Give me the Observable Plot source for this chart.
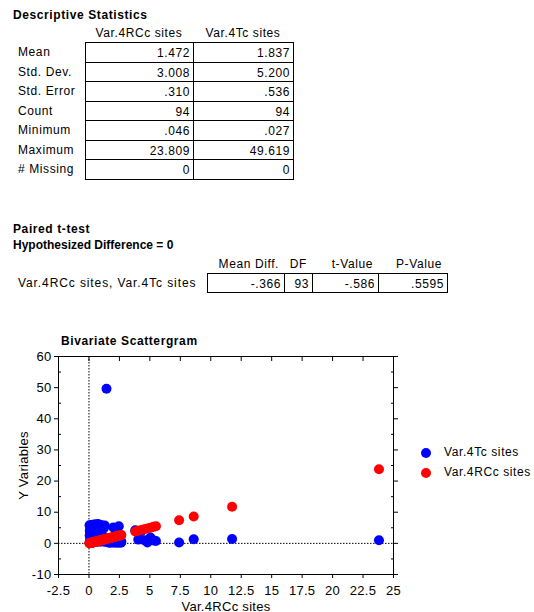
<!DOCTYPE html>
<html>
<head>
<meta charset="utf-8">
<script src="https://cdn.jsdelivr.net/npm/d3@7"></script>
<script src="https://cdn.jsdelivr.net/npm/@observablehq/plot@0.6"></script>
<style>
  html, body { margin: 0; padding: 0; background: #fff; }
  body { width: 534px; height: 612px; position: relative; overflow: hidden;
         font-family: "Liberation Sans", Arial, sans-serif; font-size: 12px; color: #000; letter-spacing: 0.6px; }
  .abs { position: absolute; white-space: nowrap; }
  .title { font-weight: bold; }
  .cell { position: absolute; box-sizing: border-box; border: 1px solid #000; text-align: right;
          padding-right: 3px; white-space: nowrap; }
  .legend-dot { display: inline-block; width: 10px; height: 10px; border-radius: 50%; position: absolute; }
  svg text { letter-spacing: 0.3px; }
</style>
</head>
<body>
<div id="page"></div>
<script>
// ---------- Data ----------
const statNames = ["Mean", "Std. Dev.", "Std. Error", "Count", "Minimum", "Maximum", "# Missing"];
const seriesNames = ["Var.4RCc sites", "Var.4Tc sites"];
const rccStats = ["1.472", "3.008", ".310", "94", ".046", "23.809", "0"];
const tcStats = ["1.837", "5.200", ".536", "94", ".027", "49.619", "0"];

const ttestHeaders = ["Mean Diff.", "DF", "t-Value", "P-Value"];
const ttestRowLabel = "Var.4RCc sites, Var.4Tc sites";
const ttestValues = ["-.366", "93", "-.586", ".5595"];

// Var.4RCc sites (x values; also plotted as the red series on y = x)
const rcc = [
  0.046, 0.05, 0.06, 0.07, 0.08, 0.09, 0.1, 0.11, 0.12, 0.13,
  0.14, 0.15, 0.17, 0.18, 0.19, 0.2, 0.22, 0.24, 0.25, 0.27,
  0.29, 0.3, 0.32, 0.34, 0.36, 0.38, 0.4, 0.42, 0.44, 0.46,
  0.48, 0.5, 0.52, 0.55, 0.58, 0.6, 0.63, 0.66, 0.69, 0.72,
  0.75, 0.78, 0.81, 0.85, 0.88, 0.92, 0.96, 1.0, 1.04, 1.08,
  1.12, 1.16, 1.2, 1.25, 1.3, 1.35, 1.44, 1.5, 1.55, 1.6,
  1.65, 1.7, 1.75, 1.8, 1.85, 1.9, 1.95, 2.0, 2.05, 2.1,
  2.15, 2.2, 2.25, 2.3, 2.35, 2.4, 2.45, 2.5, 2.55, 2.6,
  2.63, 2.66,
  3.8, 4.05, 4.3, 4.55, 4.8, 5.05, 5.3, 5.5,
  7.4, 8.6, 11.75, 23.809
];
// Var.4Tc sites (blue series)
const tc = [
  5.8, 0.3, 2.5, 4.1, 0.027, 3.2, 1.5, 5.5, 0.6, 2.8,
  4.6, 0.2, 3.6, 1.1, 5.9, 0.4, 2.2, 4.9, 0.8, 3.0,
  6.0, 1.7, 0.5, 5.2, 2.6, 0.3, 4.4, 1.2, 3.8, 5.6,
  0.9, 2.0, 6.1, 0.4, 4.7, 3.3, 1.4, 5.8, 0.6, 2.4,
  6.2, 0.8, 4.0, 1.9, 5.4, 0.5, 3.1, 5.9, 0.7, 2.7,
  5.6, 1.1, 4.8, 0.5, 5.7, 0.9, 49.619, 0.4, 0.7, 0.3,
  0.6, 0.2, 0.9, 0.4, 0.3, 0.8, 0.5, 5.1, 0.2, 0.6,
  0.4, 0.9, 0.3, 0.7, 0.2, 0.5, 5.5, 0.3, 0.8, 0.4,
  0.2, 0.5,
  4.2, 1.2, 3.9, 1.0, 0.3, 1.9, 0.9, 0.75,
  0.3, 1.3, 1.4, 1.0
];
const xTicks = [-2.5, 0, 2.5, 5, 7.5, 10, 12.5, 15, 17.5, 20, 22.5, 25];
const yTicks = [-10, 0, 10, 20, 30, 40, 50, 60];
const yMinorTicks = [-5, 5, 15, 25, 35, 45, 55];
const legendNames = ["Var.4Tc sites", "Var.4RCc sites"];
const blue = "#0000ff", red = "#ff0000";

// ---------- Page ----------
const page = document.getElementById("page");
function addText(txt, left, top, cls) {
  const d = document.createElement("div");
  d.className = "abs" + (cls ? " " + cls : "");
  d.style.left = left + "px"; d.style.top = top + "px";
  d.textContent = txt;
  page.appendChild(d);
  return d;
}
function addCell(txt, x0, x1, y0, h) {
  const d = document.createElement("div");
  d.className = "cell";
  d.style.left = x0 + "px"; d.style.top = y0 + "px";
  d.style.width = (x1 - x0 + 1) + "px"; d.style.height = (h + 1) + "px";
  d.style.lineHeight = (h + 1) + "px";
  d.textContent = txt;
  page.appendChild(d);
}

// Descriptive statistics
addText("Descriptive Statistics", 13, 8, "title");
const colEdges = [85, 193, 293];
const rowTop = 42, rowH = 19.5;
seriesNames.forEach((s, i) => {
  const d = addText(s, colEdges[i], 26);
  d.style.width = (colEdges[i + 1] - colEdges[i]) + "px";
  d.style.textAlign = "center";
});
statNames.forEach((name, r) => {
  const y0 = rowTop + r * rowH;
  addCell(rccStats[r], colEdges[0], colEdges[1], y0, rowH);
  addCell(tcStats[r], colEdges[1], colEdges[2], y0, rowH);
  const d = addText(name, 18, y0 + 1);
  d.style.lineHeight = (rowH) + "px";
});

// Paired t-test
addText("Paired t-test", 13, 222, "title");
const hyp = addText("Hypothesized Difference = 0", 13, 238, "title");
hyp.style.letterSpacing = "0px";
const tEdges = [207, 284, 312, 378, 447];
const tTop = 273, tH = 19;
ttestHeaders.forEach((h, i) => {
  const d = addText(h, tEdges[i] - 20, 257);
  d.style.width = (tEdges[i + 1] - tEdges[i] + 20 - 5) + "px";
  d.style.textAlign = "right";
});
ttestValues.forEach((v, c) => addCell(v, tEdges[c], tEdges[c + 1], tTop, tH));
const rl = addText(ttestRowLabel, 18, tTop + 1);
rl.style.lineHeight = tH + "px";
rl.style.letterSpacing = "0.9px";

// Scattergram
addText("Bivariate Scattergram", 61, 334, "title");

const rows = rcc.map((x, i) => ({ x, tc: tc[i], rcc: x }));
const chart = Plot.plot({
  width: 534,
  height: 282,
  marginLeft: 58,
  marginRight: 141,
  marginTop: 26,
  marginBottom: 38,
  style: { fontFamily: '"Liberation Sans", Arial, sans-serif', fontSize: "12.5px", color: "#000", background: "transparent", overflow: "visible" },
  x: { domain: [-2.5, 25] },
  y: { domain: [-10, 60] },
  marks: [
    Plot.ruleX([0], { stroke: "#000", strokeWidth: 1, strokeDasharray: "1.5,1.5" }),
    Plot.ruleY([0], { stroke: "#000", strokeWidth: 1, strokeDasharray: "1.5,1.5" }),
    Plot.dot(rows, { x: "x", y: "tc", r: 5, fill: blue }),
    Plot.dot(rows, { x: "x", y: "rcc", r: 5, fill: red }),
    Plot.frame({ stroke: "#000" }),
    Plot.axisX({ ticks: xTicks, tickSize: 4, tickPadding: 7, tickFormat: d => String(d), fontSize: 13,
                 label: "Var.4RCc sites", labelAnchor: "center", labelArrow: "none", labelOffset: 36 }),
    Plot.axisX({ anchor: "top", ticks: xTicks, tickSize: -4, tickFormat: () => "", label: null }),
    Plot.axisY({ ticks: yTicks, tickSize: 4, tickPadding: 3, tickFormat: d => String(d), fontSize: 13,
                 label: "Y Variables", labelAnchor: "center", labelArrow: "none", labelOffset: 40 }),
    Plot.axisY({ ticks: yMinorTicks, tickSize: -3, tickFormat: () => "", label: null }),
    Plot.axisY({ anchor: "right", ticks: yTicks, tickSize: 4, tickFormat: () => "", label: null }),
    Plot.axisY({ anchor: "right", ticks: yMinorTicks, tickSize: -3, tickFormat: () => "", label: null })
  ]
});
const wrap = document.createElement("div");
wrap.className = "abs";
wrap.style.left = "0px"; wrap.style.top = "330px";
wrap.appendChild(chart);
page.appendChild(wrap);

// Legend
legendNames.forEach((name, i) => {
  const dot = document.createElement("span");
  dot.className = "legend-dot";
  dot.style.background = i === 0 ? blue : red;
  dot.style.left = "421px"; dot.style.top = (448 + i * 20) + "px";
  page.appendChild(dot);
  addText(name, 444, 445 + i * 20);
});
</script>
</body>
</html>
